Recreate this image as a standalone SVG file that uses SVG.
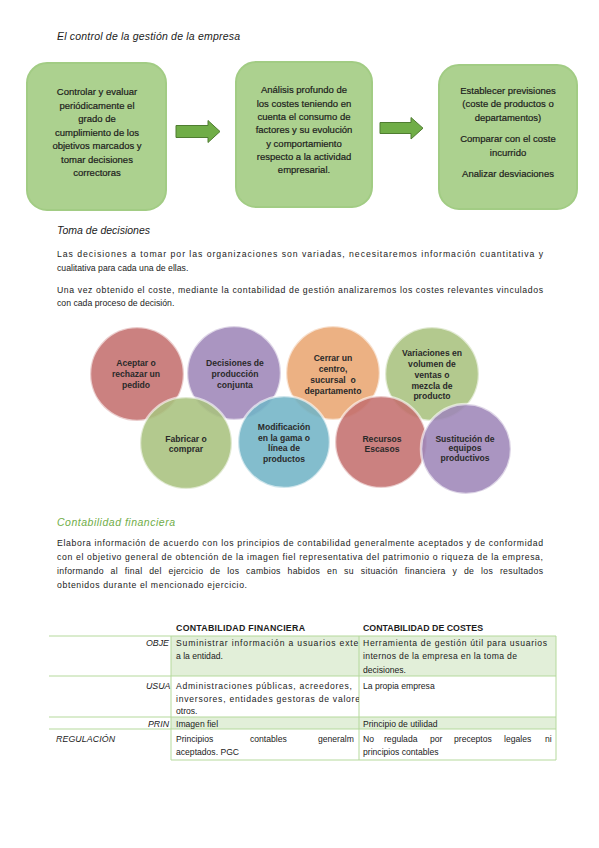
<svg xmlns="http://www.w3.org/2000/svg" width="599" height="848" viewBox="0 0 599 848">
<style>
text{font-family:"Liberation Sans",Arial,sans-serif;fill:#1b1b1b}
.h{font-size:10.5px;font-style:italic}
.p{font-size:8.7px}
.bx{font-size:9.5px;text-anchor:middle;fill:#1c1c1c;stroke:#1c1c1c;stroke-width:0.2}
.box{fill:#acd18f;stroke:#a2cc84;stroke-width:2}
.arr{fill:#70ad47;stroke:#4f7d31;stroke-width:1}
.c{stroke:#ffffff;stroke-opacity:0.6;stroke-width:2.5;fill-opacity:0.88}
.ct{font-size:8.6px;font-weight:bold;text-anchor:middle;fill:#2a2a2a}
.t{font-size:8.6px}
.th{font-size:8.8px;font-weight:bold}
.ti{font-size:8.8px;font-style:italic}
.gl{stroke:#b5d99c;stroke-width:1}
</style>
<defs>
<clipPath id="c2"><rect x="171" y="630" width="188" height="135"/></clipPath>
<clipPath id="c1"><rect x="40" y="630" width="131" height="135"/></clipPath>
</defs>
<rect width="599" height="848" fill="#ffffff"/>

<text class="h" x="57" y="40" textLength="183" lengthAdjust="spacing">El control de la gestión de la empresa</text>

<g id="box1">
<rect class="box" x="27" y="63" width="139" height="147" rx="20"/>
<text class="bx" x="97" y="95">Controlar y evaluar</text>
<text class="bx" x="97" y="108.5">periódicamente el</text>
<text class="bx" x="97" y="122">grado de</text>
<text class="bx" x="97" y="135.5">cumplimiento de los</text>
<text class="bx" x="97" y="149">objetivos marcados y</text>
<text class="bx" x="97" y="162.5">tomar decisiones</text>
<text class="bx" x="97" y="176">correctoras</text>
</g>
<g id="box2">
<rect class="box" x="236" y="62" width="136" height="145" rx="20"/>
<text class="bx" x="304" y="93">Análisis profundo de</text>
<text class="bx" x="304" y="106.5">los costes teniendo en</text>
<text class="bx" x="304" y="120">cuenta el consumo de</text>
<text class="bx" x="304" y="133">factores y su evolución</text>
<text class="bx" x="304" y="146.5">y comportamiento</text>
<text class="bx" x="304" y="160">respecto a la actividad</text>
<text class="bx" x="304" y="173">empresarial.</text>
</g>
<g id="box3">
<rect class="box" x="439" y="65" width="138" height="144" rx="20"/>
<text class="bx" x="508" y="94">Establecer previsiones</text>
<text class="bx" x="508" y="107">(coste de productos o</text>
<text class="bx" x="508" y="121">departamentos)</text>
<text class="bx" x="508" y="142">Comparar con el coste</text>
<text class="bx" x="508" y="156">incurrido</text>
<text class="bx" x="508" y="177">Analizar desviaciones</text>
</g>
<g id="connectors">
<path class="arr" d="M176,125.5 H208 V120.5 L220,131.5 L208,142.5 V137.5 H176 Z"/>
<path class="arr" d="M380,122.5 H411 V117.5 L423,128.2 L411,139 V133.5 H380 Z"/>
</g>

<text class="h" x="57" y="234" textLength="93" lengthAdjust="spacing">Toma de decisiones</text>
<text class="p" x="57" y="257" textLength="486" lengthAdjust="spacing">Las decisiones a tomar por las organizaciones son variadas, necesitaremos información cuantitativa y</text>
<text class="p" x="57" y="271">cualitativa para cada una de ellas.</text>
<text class="p" x="57" y="293" textLength="486" lengthAdjust="spacing">Una vez obtenido el coste, mediante la contabilidad de gestión analizaremos los costes relevantes vinculados</text>
<text class="p" x="57" y="306">con cada proceso de decisión.</text>

<g id="circles">
<g id="c-aceptar"><circle class="c" cx="137" cy="374" r="47" fill="#c4706e"/></g>
<g id="c-decisiones"><circle class="c" cx="234" cy="373" r="47" fill="#9e86b8"/></g>
<g id="c-cerrar"><circle class="c" cx="333" cy="373" r="47" fill="#e9a672"/></g>
<g id="c-variaciones"><circle class="c" cx="432" cy="374" r="47" fill="#a8c27e"/></g>
<g id="c-fabricar"><circle class="c" cx="186" cy="443" r="46" fill="#a8c27e"/></g>
<g id="c-modificacion"><circle class="c" cx="284" cy="442" r="46" fill="#72b4c6"/></g>
<g id="c-recursos"><circle class="c" cx="381" cy="442" r="46" fill="#c4706e"/></g>
<g id="c-sustitucion"><circle class="c" cx="466" cy="449" r="45" fill="#9e86b8"/></g>
<text class="ct" x="136" y="366">Aceptar o</text>
<text class="ct" x="136" y="377">rechazar un</text>
<text class="ct" x="136" y="388">pedido</text>
<text class="ct" x="235" y="366">Decisiones de</text>
<text class="ct" x="235" y="377">producción</text>
<text class="ct" x="235" y="388">conjunta</text>
<text class="ct" x="333" y="361">Cerrar un</text>
<text class="ct" x="333" y="372">centro,</text>
<text class="ct" x="333" y="383" xml:space="preserve">sucursal  o</text>
<text class="ct" x="333" y="394">departamento</text>
<text class="ct" x="432" y="356">Variaciones en</text>
<text class="ct" x="432" y="367">volumen de</text>
<text class="ct" x="432" y="377.5">ventas o</text>
<text class="ct" x="432" y="388.5">mezcla de</text>
<text class="ct" x="432" y="399">producto</text>
<text class="ct" x="186" y="441.5">Fabricar o</text>
<text class="ct" x="186" y="451.5">comprar</text>
<text class="ct" x="284" y="430">Modificación</text>
<text class="ct" x="284" y="440.5">en la gama o</text>
<text class="ct" x="284" y="451">línea de</text>
<text class="ct" x="284" y="461.5">productos</text>
<text class="ct" x="382" y="441.5">Recursos</text>
<text class="ct" x="382" y="451.5">Escasos</text>
<text class="ct" x="465" y="441.5">Sustitución de</text>
<text class="ct" x="465" y="451">equipos</text>
<text class="ct" x="465" y="460.5">productivos</text>
</g>

<text class="h" x="57" y="526" textLength="118" lengthAdjust="spacing" style="fill:#70ad47">Contabilidad financiera</text>
<text class="p" x="57" y="546" textLength="486" lengthAdjust="spacing">Elabora información de acuerdo con los principios de contabilidad generalmente aceptados y de conformidad</text>
<text class="p" x="57" y="560" textLength="486" lengthAdjust="spacing">con el objetivo general de obtención de la imagen fiel representativa del patrimonio o riqueza de la empresa,</text>
<text class="p" x="57" y="574" textLength="486" lengthAdjust="spacing" word-spacing="4">informando al final del ejercicio de los cambios habidos en su situación financiera y de los resultados</text>
<text class="p" x="57" y="588" textLength="190" lengthAdjust="spacing">obtenidos durante el mencionado ejercicio.</text>

<g id="table">
<rect x="171" y="636" width="385" height="40" fill="#e2efd9"/>
<rect x="171" y="717" width="385" height="12" fill="#e2efd9"/>
<line class="gl" x1="49" y1="636" x2="556" y2="636"/>
<line class="gl" x1="49" y1="676" x2="556" y2="676"/>
<line class="gl" x1="49" y1="717" x2="556" y2="717"/>
<line class="gl" x1="49" y1="729" x2="556" y2="729"/>
<line class="gl" x1="171" y1="760" x2="556" y2="760"/>
<line class="gl" x1="171" y1="636" x2="171" y2="760"/>
<line class="gl" x1="359" y1="636" x2="359" y2="760"/>
<line class="gl" x1="556" y1="636" x2="556" y2="760"/>
<text class="th" x="176" y="631" textLength="129" lengthAdjust="spacing">CONTABILIDAD FINANCIERA</text>
<text class="th" x="363" y="631" textLength="120" lengthAdjust="spacing">CONTABILIDAD DE COSTES</text>
<g clip-path="url(#c1)">
<text class="ti" x="146" y="646">OBJE</text>
<text class="ti" x="146" y="689">USUA</text>
<text class="ti" x="148" y="727">PRIN</text>
</g>
<text class="ti" x="56" y="742" textLength="59" lengthAdjust="spacing">REGULACIÓN</text>
<g clip-path="url(#c2)">
<text class="t" x="176" y="646" textLength="186" lengthAdjust="spacing">Suministrar información a usuarios exter</text>
<text class="t" x="176" y="659">a la entidad.</text>
<text class="t" x="176" y="689" textLength="176" lengthAdjust="spacing">Administraciones públicas, acreedores,</text>
<text class="t" x="176" y="702" textLength="184" lengthAdjust="spacing">inversores, entidades gestoras de valore</text>
<text class="t" x="176" y="714">otros.</text>
<text class="t" x="176" y="727">Imagen fiel</text>
<text class="t" y="742"><tspan x="176">Principios</tspan><tspan x="250">contables</tspan><tspan x="318">generalm</tspan></text>
<text class="t" x="176" y="755">aceptados. PGC</text>
</g>
<text class="t" x="363" y="646" textLength="184" lengthAdjust="spacing">Herramienta de gestión útil para usuarios</text>
<text class="t" x="363" y="659" textLength="154" lengthAdjust="spacing">internos de la empresa en la toma de</text>
<text class="t" x="363" y="673">decisiones.</text>
<text class="t" x="363" y="689">La propia empresa</text>
<text class="t" x="363" y="727">Principio de utilidad</text>
<text class="t" y="742"><tspan x="363">No</tspan><tspan x="384">regulada</tspan><tspan x="430">por</tspan><tspan x="454">preceptos</tspan><tspan x="504">legales</tspan><tspan x="545">ni</tspan></text>
<text class="t" x="363" y="755">principios contables</text>
</g>
</svg>
